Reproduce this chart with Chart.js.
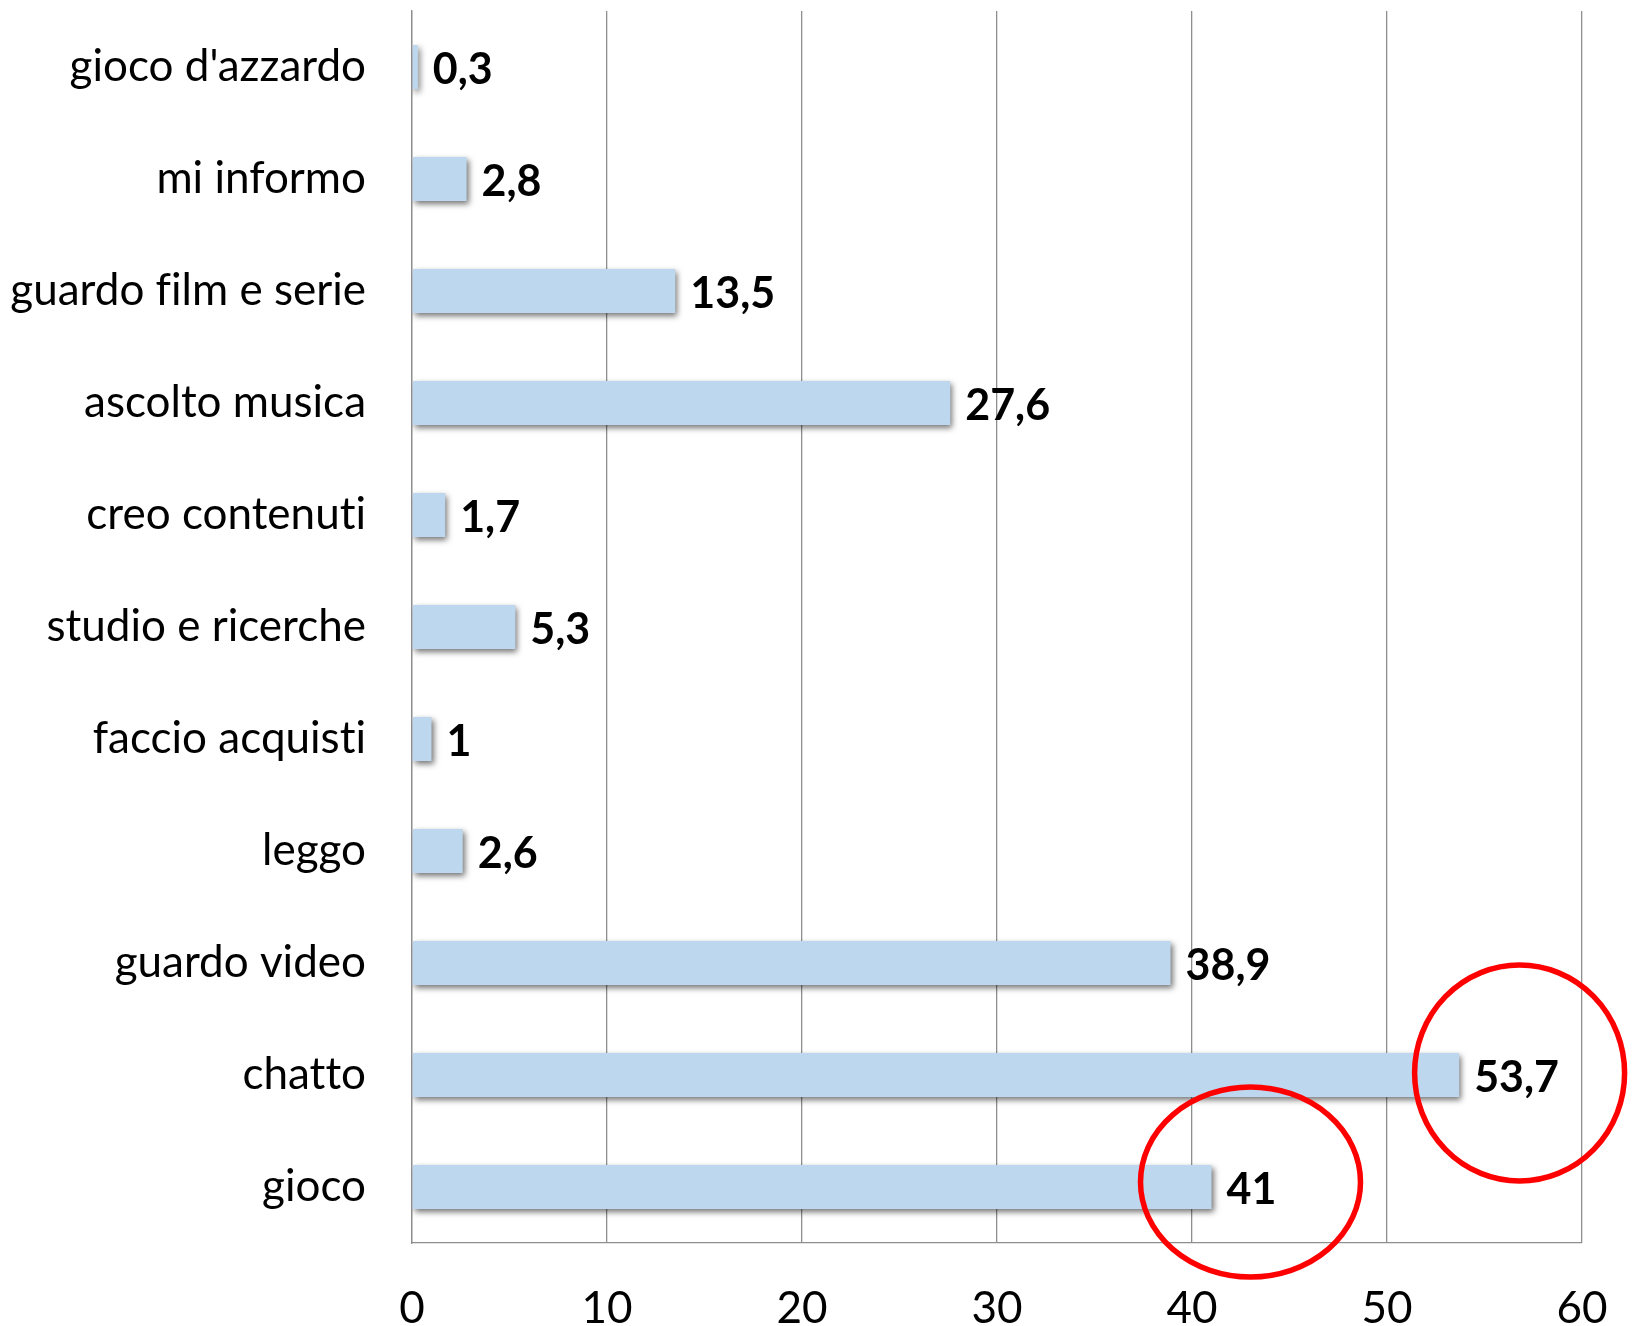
<!DOCTYPE html>
<html>
<head>
<meta charset="utf-8">
<script src="https://cdn.jsdelivr.net/npm/chart.js@4"></script>
<style>
  html, body { margin: 0; padding: 0; background: #fff; }
  #wrap { width: 1632px; height: 1326px; position: relative; }
</style>
</head>
<body>
<div id="wrap"><canvas id="chart"></canvas></div>
<script>
const categories = ["gioco d'azzardo", 'mi informo', 'guardo film e serie', 'ascolto musica',
  'creo contenuti', 'studio e ricerche', 'faccio acquisti', 'leggo', 'guardo video', 'chatto', 'gioco'];
const values = [0.3, 2.8, 13.5, 27.6, 1.7, 5.3, 1, 2.6, 38.9, 53.7, 41];
const xTicks = [0, 10, 20, 30, 40, 50, 60];

const FONT = 'Lato, "Open Sans", sans-serif';

// no ligatures (tt, ti) like the original font
const plainText = {
  id: 'plainText',
  beforeDraw(chart) {
    chart.ctx.textRendering = 'optimizeSpeed';
  }
};

// soft shadow under the bars, like the office chart
const barShadow = {
  id: 'barShadow',
  beforeDatasetsDraw(chart) {
    const ctx = chart.ctx;
    ctx.save();
    ctx.shadowColor = 'rgba(0,0,0,0.55)';
    ctx.shadowBlur = 6;
    ctx.shadowOffsetX = 2;
    ctx.shadowOffsetY = 3;
  },
  afterDatasetsDraw(chart) {
    chart.ctx.restore();
  }
};

// value labels at the end of each bar
const valueLabels = {
  id: 'valueLabels',
  afterDraw(chart) {
    const ctx = chart.ctx;
    const meta = chart.getDatasetMeta(0);
    ctx.save();
    ctx.font = 'bold 43px ' + FONT;
    ctx.fillStyle = '#000';
    ctx.textBaseline = 'middle';
    ctx.textAlign = 'left';
    meta.data.forEach((bar, i) => {
      const txt = String(values[i]).replace('.', ',');
      ctx.fillText(txt, bar.x + 15, bar.y + 3);
    });
    ctx.restore();
  }
};

// red circles around two of the values
const highlights = {
  id: 'highlights',
  afterDraw(chart) {
    const ctx = chart.ctx;
    const xs = chart.scales.x, ys = chart.scales.y;
    const marks = [
      { cat: 'chatto', at: 56.8, rx: 105, ry: 108, dy: -2 },
      { cat: 'gioco', at: 43.0, rx: 110, ry: 95, dy: -5 }
    ];
    ctx.save();
    ctx.strokeStyle = '#ff0000';
    ctx.lineWidth = 5.5;
    marks.forEach(m => {
      const cx = xs.getPixelForValue(m.at);
      const cy = ys.getPixelForValue(categories.indexOf(m.cat)) + m.dy;
      ctx.beginPath();
      ctx.ellipse(cx, cy, m.rx, m.ry, 0, 0, Math.PI * 2);
      ctx.stroke();
    });
    ctx.restore();
  }
};

new Chart(document.getElementById('chart'), {
  type: 'bar',
  data: {
    labels: categories,
    datasets: [{
      data: values,
      backgroundColor: '#bdd7ee',
      borderWidth: 0,
      barPercentage: 0.393,
      categoryPercentage: 1
    }]
  },
  options: {
    indexAxis: 'y',
    responsive: true,
    maintainAspectRatio: false,
    animation: false,
    layout: { padding: { top: 11, right: 50, left: 0, bottom: 0 } },
    plugins: {
      legend: { display: false },
      tooltip: { enabled: false }
    },
    scales: {
      x: {
        min: 0,
        max: 60,
        afterBuildTicks(scale) {
          scale.ticks = xTicks.map(v => ({ value: v }));
        },
        afterFit(scale) {
          scale.height = 83;
          scale.paddingLeft = 0;
          scale.paddingRight = 0;
        },
        grid: { color: '#8e8e8e', lineWidth: 1.3, drawTicks: false },
        border: { display: true, color: '#8e8e8e', width: 1.3 },
        ticks: {
          color: '#000',
          padding: 39,
          font: { family: FONT, size: 44 }
        }
      },
      y: {
        afterFit(scale) {
          scale.width = 412;
          scale.paddingTop = 0;
          scale.paddingBottom = 0;
        },
        grid: { display: false, drawTicks: false },
        border: { display: true, color: '#8e8e8e', width: 1.3 },
        ticks: {
          color: '#000',
          padding: 46,
          font: { family: FONT, size: 44 }
        }
      }
    }
  },
  plugins: [plainText, barShadow, valueLabels, highlights]
});
</script>
</body>
</html>
